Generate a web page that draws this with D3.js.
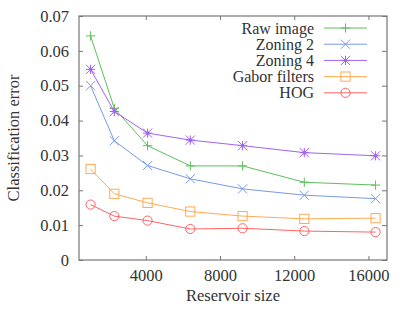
<!DOCTYPE html>
<html>
<head>
<meta charset="utf-8">
<script src="https://cdn.jsdelivr.net/npm/d3@7"></script>
<style>
  body { margin: 0; background: #fff; }
</style>
</head>
<body>
<div class="chart"></div>
<script>
// reservoir sizes (32^2 ... 128^2)
var sizes = [1024, 2304, 4096, 6400, 9216, 12544, 16384];
var seriesNames = ["Raw image", "Zoning 2", "Zoning 4", "Gabor filters", "HOG"];
var rawImage = [0.0643, 0.0435, 0.0328, 0.0270, 0.0270, 0.0223, 0.0215];
var zoning2  = [0.0500, 0.0342, 0.0271, 0.0233, 0.0204, 0.0186, 0.0176];
var zoning4  = [0.0547, 0.0426, 0.0364, 0.0344, 0.0328, 0.0308, 0.0299];
var gabor    = [0.0261, 0.0190, 0.0164, 0.0139, 0.0126, 0.0118, 0.0120];
var hog      = [0.0159, 0.0126, 0.0113, 0.0089, 0.0091, 0.0083, 0.0080];
var xTicks = [4000, 8000, 12000, 16000];
var yTicks = [0, 0.01, 0.02, 0.03, 0.04, 0.05, 0.06, 0.07];

var colors  = ["#5cc05c", "#789be2", "#a064f0", "#ffaa55", "#ff6363"];
var markers = ["plus", "cross", "star", "square", "circle"];
var values  = [rawImage, zoning2, zoning4, gabor, hog];

var font = "'Liberation Serif', 'DejaVu Serif', serif";

var svg = d3.select(".chart").append("svg").attr("width", 416).attr("height", 312),
    margin = {top: 16, right: 29, bottom: 52, left: 79},
    width  = +svg.attr("width") - margin.left - margin.right,
    height = +svg.attr("height") - margin.top - margin.bottom,
    x = d3.scaleLinear().domain([400, 17000]).range([0, width]),
    y = d3.scaleLinear().domain([0, 0.07]).range([height, 0]),
    g = svg.append("g").attr("transform", `translate(${margin.left},${margin.top})`);

var axisColor = "#777";

// axes with inward ticks on all four sides
function styleAxis(sel) {
  sel.attr("font-family", null).attr("font-size", null);
  sel.select(".domain").remove();
  sel.selectAll(".tick line").attr("stroke", axisColor);
  sel.selectAll(".tick text")
    .style("font-family", font).style("font-size", "16.5px").attr("fill", "#333");
}

g.append("g").attr("transform", `translate(0,${height})`)
  .call(d3.axisBottom(x).tickValues(xTicks).tickFormat(d3.format("d")).tickSizeInner(-4).tickPadding(9))
  .call(styleAxis);
g.append("g")
  .call(d3.axisTop(x).tickValues(xTicks).tickSizeInner(-4).tickFormat(""))
  .call(styleAxis);
g.append("g")
  .call(d3.axisLeft(y).tickValues(yTicks).tickFormat(d => d === 0 ? "0" : d3.format(".2f")(d)).tickSizeInner(-4).tickPadding(10))
  .call(styleAxis);
g.append("g").attr("transform", `translate(${width},0)`)
  .call(d3.axisRight(y).tickValues(yTicks).tickSizeInner(-5).tickFormat(""))
  .call(styleAxis);

g.append("rect")
  .attr("width", width).attr("height", height)
  .attr("fill", "none").attr("stroke", axisColor).attr("stroke-width", 1.2);

// axis titles
svg.append("text")
  .attr("x", 233).attr("y", 301)
  .attr("text-anchor", "middle")
  .style("font-family", font).style("font-size", "16.5px").attr("fill", "#333")
  .text("Reservoir size");
svg.append("text")
  .attr("transform", `translate(19,${margin.top + height / 2}) rotate(-90)`)
  .attr("text-anchor", "middle")
  .style("font-family", font).style("font-size", "16.5px").attr("fill", "#333")
  .text("Classification error");

// marker drawing
function drawMarker(sel, type, color) {
  var r = 4.6;
  if (type === "plus" || type === "star") {
    sel.append("path").attr("d", `M${-r},0H${r}M0,${-r}V${r}`);
  }
  if (type === "cross" || type === "star") {
    sel.append("path").attr("d", `M${-r},${-r}L${r},${r}M${-r},${r}L${r},${-r}`);
  }
  if (type === "star") {
    sel.append("circle").attr("r", 1.4).attr("fill", color);
  }
  if (type === "square") {
    sel.append("rect").attr("x", -r).attr("y", -r).attr("width", 2 * r).attr("height", 2 * r).attr("fill", "none");
  }
  if (type === "circle") {
    sel.append("circle").attr("r", r).attr("fill", "none");
  }
  sel.selectAll("path, rect, circle").attr("stroke", color).attr("stroke-width", 1);
}

var line = d3.line().x(d => x(d[0])).y(d => y(d[1]));

values.forEach(function(vals, i) {
  var pts = sizes.map((s, j) => [s, vals[j]]);
  g.append("path")
    .datum(pts)
    .attr("fill", "none")
    .attr("stroke", colors[i])
    .attr("stroke-width", 1)
    .attr("d", line);
  g.selectAll(".m" + i)
    .data(pts)
    .enter().append("g")
      .attr("class", "m" + i)
      .attr("transform", d => `translate(${x(d[0])},${y(d[1])})`)
      .each(function() { drawMarker(d3.select(this), markers[i], colors[i]); });
});

// legend
var legend = svg.append("g").attr("transform", "translate(314,28)");
seriesNames.forEach(function(name, i) {
  var row = legend.append("g").attr("transform", `translate(0,${i * 16.2})`);
  row.append("text")
    .attr("x", 0).attr("y", 5.5)
    .attr("text-anchor", "end")
    .style("font-family", font).style("font-size", "16px").attr("fill", "#333")
    .text(name);
  row.append("line")
    .attr("x1", 10).attr("x2", 53)
    .attr("stroke", colors[i]).attr("stroke-width", 1);
  var m = row.append("g").attr("transform", "translate(31.5,0)");
  drawMarker(m, markers[i], colors[i]);
});
</script>
</body>
</html>
